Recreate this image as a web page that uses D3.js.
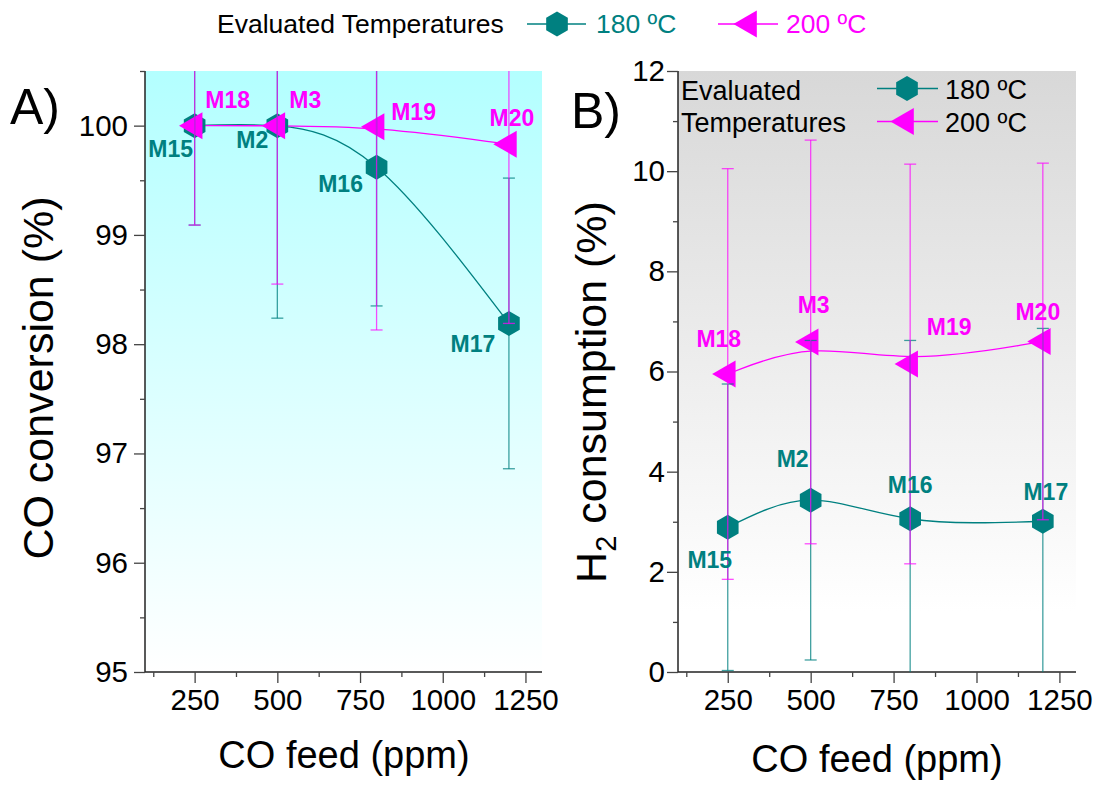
<!DOCTYPE html>
<html>
<head>
<meta charset="utf-8">
<script src="https://cdn.jsdelivr.net/npm/d3@7"></script>
<style>
  html, body { margin: 0; padding: 0; background: #fff; }
  svg text { font-family: "Liberation Sans", Arial, Helvetica, sans-serif; }
</style>
</head>
<body>
<svg id="chart" width="1102" height="789"></svg>
<script>
// CO feed levels (ppm)
const feed = [250, 500, 800, 1200];

// Panel A: CO conversion (%)
const conv180 = [100, 99.998, 99.62, 98.19];
const conv180Err = [0.91, 1.76, 1.27, 1.33];
const conv200 = [100, 100, 99.99, 99.83];
const conv200Err = [0.91, 1.45, 1.86, 1.64];

// Panel B: H2 consumption (%)
const h2180 = [2.89, 3.43, 3.06, 3.01];
const h2180Err = [2.86, 3.19, 3.56, 3.85];
const h2200 = [5.95, 6.59, 6.15, 6.60];
const h2200Err = [4.10, 4.03, 3.99, 3.56];

// Sample names
const names180 = ["M15", "M2", "M16", "M17"];
const names200 = ["M18", "M3", "M19", "M20"];

// Series names and axis ticks
const seriesNames = ["180 ºC", "200 ºC"];
const xTicks = [250, 500, 750, 1000, 1250];
const xMinor = [125, 375, 625, 875, 1125];
const yTicksA = [95, 96, 97, 98, 99, 100];
const yMinorA = [95.5, 96.5, 97.5, 98.5, 99.5, 100.5];
const yTicksB = [0, 2, 4, 6, 8, 10, 12];
const yMinorB = [1, 3, 5, 7, 9, 11];

const TEAL = "#008080";
const MAGENTA = "#ff00ff";

const svg = d3.select("#chart");
const defs = svg.append("defs");

function gradient(id, top, bottom, stopEnd) {
  const g = defs.append("linearGradient").attr("id", id)
    .attr("x1", 0).attr("y1", 0).attr("x2", 0).attr("y2", 1);
  g.append("stop").attr("offset", 0).attr("stop-color", top);
  g.append("stop").attr("offset", stopEnd).attr("stop-color", bottom);
}
gradient("bgA", "#b3ffff", "#ffffff", 1);
gradient("bgB", "#d8d8d8", "#ffffff", 0.9);

// Marker shapes
function hexPath(R) {
  const p = d3.path();
  for (let i = 0; i < 6; i++) {
    const a = (-90 + 60 * i) * Math.PI / 180;
    const x = R * Math.cos(a), y = R * Math.sin(a);
    if (i === 0) p.moveTo(x, y); else p.lineTo(x, y);
  }
  p.closePath();
  return p.toString();
}
function leftTriPath(r) {
  const s = Math.sqrt(3) * r;
  return `M${-2 * r},0L${r},${-s}L${r},${s}Z`;
}
const HEX = hexPath(12.5);
const TRI = leftTriPath(7.8);

function panel(opts) {
  const { id, xr, yr, ydom, bg, yTicks, yMinor, series, labelGap } = opts;
  const x = d3.scaleLinear().domain([100, 1300]).range(xr);
  const y = d3.scaleLinear().domain(ydom).range(yr);
  const g = svg.append("g");

  g.append("rect")
    .attr("x", xr[0]).attr("y", yr[1])
    .attr("width", xr[1] - xr[0]).attr("height", yr[0] - yr[1])
    .attr("fill", `url(#${bg})`);

  defs.append("clipPath").attr("id", "clip" + id)
    .append("rect")
    .attr("x", xr[0]).attr("y", yr[1])
    .attr("width", xr[1] - xr[0]).attr("height", yr[0] - yr[1]);

  // axes
  const xAxis = g.append("g").attr("transform", `translate(0,${yr[0]})`)
    .call(d3.axisBottom(x).tickValues(xTicks).tickSize(11).tickPadding(6)
      .tickFormat(d3.format("d")));
  g.append("g").attr("transform", `translate(0,${yr[0]})`)
    .call(d3.axisBottom(x).tickValues(xMinor).tickSize(5).tickFormat(""))
    .select(".domain").remove();
  const yAxis = g.append("g").attr("transform", `translate(${xr[0]},0)`)
    .call(d3.axisLeft(y).tickValues(yTicks).tickSize(11).tickPadding(labelGap)
      .tickFormat(d3.format("d")));
  g.append("g").attr("transform", `translate(${xr[0]},0)`)
    .call(d3.axisLeft(y).tickValues(yMinor).tickSize(5).tickFormat(""))
    .select(".domain").remove();

  g.selectAll(".domain").attr("stroke", "#222").attr("stroke-width", 1.5);
  g.selectAll(".tick line").attr("stroke", "#444").attr("stroke-width", 1.3);
  xAxis.selectAll(".tick text").attr("font-size", 29.5).attr("fill", "#000");
  yAxis.selectAll(".tick text").attr("font-size", 29.5).attr("fill", "#000");
  xAxis.select(".domain").attr("d", `M${xr[0]},0H${xr[1]}`);
  yAxis.select(".domain").attr("d", `M0,${yr[0]}V${yr[1]}`);

  const plot = g.append("g");
  const bars = g.append("g").attr("clip-path", `url(#clip${id})`);

  // connecting curves
  series.forEach(s => {
    const pts = feed.map((f, i) => [x(f), y(s.values[i])]);
    plot.append("path")
      .attr("d", d3.line().curve(s.curve)(pts))
      .attr("fill", "none").attr("stroke", s.color).attr("stroke-width", 1.3);
  });
  // markers
  series.forEach(s => {
    plot.selectAll(null).data(feed).enter().append("path")
      .attr("d", s.shape)
      .attr("transform", (f, i) => `translate(${x(f)},${y(s.values[i])})`)
      .attr("fill", s.color);
  });
  // error bars
  series.forEach(s => {
    const eb = bars.append("g").attr("stroke", s.color)
      .attr("stroke-width", 1.3).attr("stroke-opacity", s.barOpacity);
    feed.forEach((f, i) => {
      const lo = y(s.values[i] - s.errors[i]);
      const hi = y(s.values[i] + s.errors[i]);
      const cx = x(f);
      eb.append("line").attr("x1", cx).attr("x2", cx).attr("y1", lo).attr("y2", hi);
      eb.append("line").attr("x1", cx - 6).attr("x2", cx + 6).attr("y1", lo).attr("y2", lo);
      eb.append("line").attr("x1", cx - 6).attr("x2", cx + 6).attr("y1", hi).attr("y2", hi);
    });
  });
  // sample labels
  series.forEach(s => {
    feed.forEach((f, i) => {
      g.append("text")
        .attr("x", x(f) + s.offsets[i][0])
        .attr("y", y(s.values[i]) + s.offsets[i][1])
        .attr("text-anchor", "middle")
        .attr("font-size", 23).attr("font-weight", "bold")
        .attr("fill", s.color)
        .text(s.names[i]);
    });
  });
  return { x, y, g };
}

// Panel A
const A = panel({
  id: "A", xr: [145, 542], yr: [672, 71], ydom: [95, 100.5], bg: "bgA",
  yTicks: yTicksA, yMinor: yMinorA, labelGap: 6,
  series: [
    { values: conv180, errors: conv180Err, names: names180, color: TEAL,
      shape: HEX, curve: d3.curveNatural, barOpacity: 0.75,
      offsets: [[-24, 31], [-25, 22], [-36, 25], [-36, 29]] },
    { values: conv200, errors: conv200Err, names: names200, color: MAGENTA,
      shape: TRI, curve: d3.curveBasis, barOpacity: 0.7,
      offsets: [[33, -18], [28, -18], [37, -7], [3, -18]] }
  ]
});

// Panel B
const B = panel({
  id: "B", xr: [678, 1076], yr: [672, 71], ydom: [0, 12], bg: "bgB",
  yTicks: yTicksB, yMinor: yMinorB, labelGap: 2,
  series: [
    { values: h2180, errors: h2180Err, names: names180, color: TEAL,
      shape: HEX, curve: d3.curveNatural, barOpacity: 0.75,
      offsets: [[-18, 41], [-18, -33], [0, -26], [3, -21]] },
    { values: h2200, errors: h2200Err, names: names200, color: MAGENTA,
      shape: TRI, curve: d3.curveBasis, barOpacity: 0.7,
      offsets: [[-9, -27], [3, -29], [39, -29], [-5, -21]] }
  ]
});

// Panel letters
svg.append("text").attr("x", 10).attr("y", 124).attr("font-size", 50).text("A)");
svg.append("text").attr("x", 571).attr("y", 128).attr("font-size", 50).text("B)");

// Axis titles
svg.append("text").attr("x", 344).attr("y", 768).attr("text-anchor", "middle")
  .attr("font-size", 38).text("CO feed (ppm)");
svg.append("text").attr("x", 877).attr("y", 772).attr("text-anchor", "middle")
  .attr("font-size", 38).text("CO feed (ppm)");

svg.append("text").attr("transform", "translate(53,378) rotate(-90)")
  .attr("text-anchor", "middle").attr("font-size", 43).text("CO conversion (%)");

const h2Title = svg.append("text").attr("transform", "translate(606,392) rotate(-90)")
  .attr("text-anchor", "middle").attr("font-size", 43);
h2Title.append("tspan").text("H");
h2Title.append("tspan").attr("font-size", 29).attr("dy", 10).text("2");
h2Title.append("tspan").attr("dy", -10).text(" consumption (%)");

// Top legend
const colors = [TEAL, MAGENTA];
const shapes = [HEX, TRI];
svg.append("text").attr("x", 217).attr("y", 33).attr("font-size", 26.5)
  .text("Evaluated Temperatures");
[[527, 586, 557, 596], [718, 778, 749, 786]].forEach((p, i) => {
  svg.append("line").attr("x1", p[0]).attr("x2", p[1]).attr("y1", 24).attr("y2", 24)
    .attr("stroke", colors[i]).attr("stroke-width", 1.3);
  svg.append("path").attr("d", shapes[i]).attr("transform", `translate(${p[2]},24)`)
    .attr("fill", colors[i]);
  svg.append("text").attr("x", p[3]).attr("y", 33).attr("font-size", 26.5)
    .attr("fill", colors[i]).text(seriesNames[i]);
});

// Panel B legend
svg.append("text").attr("x", 681).attr("y", 100).attr("font-size", 27).text("Evaluated");
svg.append("text").attr("x", 681).attr("y", 132).attr("font-size", 27).text("Temperatures");
[[88.5, 907], [121.5, 906]].forEach((p, i) => {
  svg.append("line").attr("x1", 877).attr("x2", 938).attr("y1", p[0]).attr("y2", p[0])
    .attr("stroke", colors[i]).attr("stroke-width", 1.3);
  svg.append("path").attr("d", shapes[i]).attr("transform", `translate(${p[1]},${p[0]})`)
    .attr("fill", colors[i]);
  svg.append("text").attr("x", 945).attr("y", p[0] + 10).attr("font-size", 27)
    .attr("fill", "#000").text(seriesNames[i]);
});
</script>
</body>
</html>
